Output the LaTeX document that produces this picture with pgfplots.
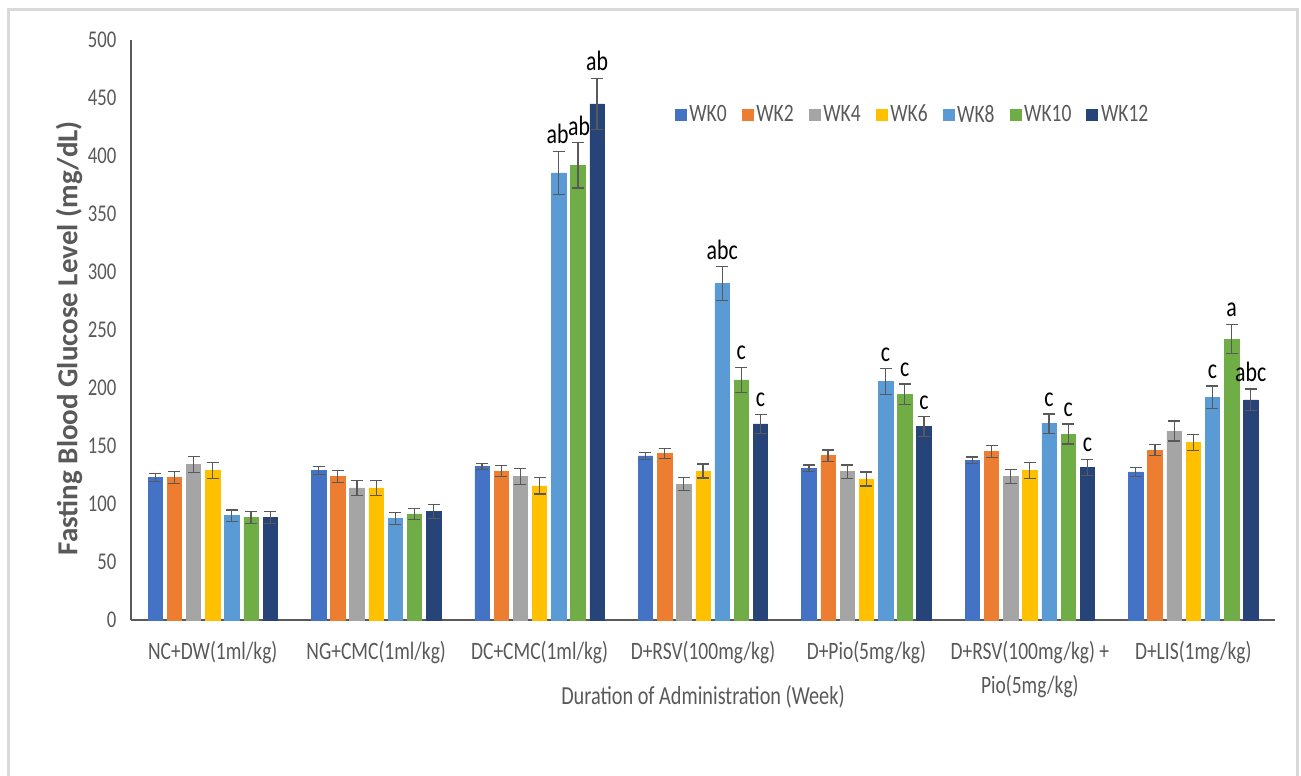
\documentclass[border=0pt]{standalone}
\usepackage{pgfplots}
\pgfplotsset{compat=1.18}
\usepackage{pgfplotstable}
\usepackage{fontspec}
\setmainfont{Carlito}[FakeStretch=0.78]
\newfontfamily\ylabfont{Carlito}

\definecolor{wkA}{HTML}{4472C4}
\definecolor{wkB}{HTML}{ED7D31}
\definecolor{wkC}{HTML}{A5A5A5}
\definecolor{wkD}{HTML}{FFC000}
\definecolor{wkE}{HTML}{5B9BD5}
\definecolor{wkF}{HTML}{70AD47}
\definecolor{wkG}{HTML}{264478}
\definecolor{txt}{HTML}{595959}

% group, mean and error for each week
\pgfplotstableread{
g w0    e0  w2    e2  w4    e4  w6    e6  w8    e8   w10   e10  w12   e12
0 122.7 3.5 122.7 5.0 134.2 7.0 129.0 7.0 89.9  5.0  88.5  5.0  88.5  5.0
1 129.0 3.5 123.8 5.0 113.8 6.5 113.8 6.5 87.6  5.0  91.4  5.0  93.7  6.0
2 132.4 2.5 128.4 4.5 123.5 7.0 115.6 7.0 385.4 18.5 392.0 19.5 444.9 22.0
3 141.4 3.0 143.6 4.5 117.2 5.5 128.4 6.0 290.0 14.5 207.0 11.0 169.1 8.0
4 130.7 3.0 141.6 5.0 127.9 5.7 121.6 6.0 205.7 11.0 194.5 9.0  166.7 8.6
5 137.6 3.0 145.4 5.0 123.8 6.0 129.0 7.0 169.3 8.3  160.3 8.6  131.6 7.0
6 127.6 3.7 146.3 4.8 162.9 8.6 152.9 7.0 191.9 9.8  242.2 12.7 189.7 9.4
}\fbg

\pgfplotsset{
  mybar/.style 2 args={
    bar shift=#2, fill=#1, draw=#1, line width=0.3pt,
    legend image code/.code={\fill[#1] (0pt,-2.75pt) rectangle (5.5pt,2.75pt);},
    error bars/.cd, y dir=both, y explicit,
    error bar style={draw=txt, line width=0.6pt},
    error mark options={draw=txt, line width=0.6pt, mark size=3pt, rotate=90},
  },
}

\begin{document}
\begin{tikzpicture}[x=1pt,y=1pt]
\useasboundingbox (0,0) rectangle (650.5,388);
\draw[color=gray!30, line width=1.5pt] (4,0) -- (4,383) -- (648.5,383) -- (648.5,0);
\begin{axis}[
  at={(65.5pt,78pt)}, anchor=south west,
  scale only axis, width=572pt, height=290pt,
  ybar, bar width=7.2pt,
  xmin=-0.5, xmax=6.5, ymin=0, ymax=500,
  clip=false,
  axis lines=left,
  axis line style={-, draw=txt, line width=0.7pt},
  major tick length=0pt,
  ytick={0,50,...,500},
  xtick={0,1,2,3,4,5,6},
  xticklabels={NC+DW(1ml/kg), NG+CMC(1ml/kg), DC+CMC(1ml/kg), D+RSV(100mg/kg), D+Pio(5mg/kg), {D+RSV(100mg/kg) +\\Pio(5mg/kg)}, D+LIS(1mg/kg)},
  /pgf/number format/assume math mode=true,
  yticklabel style={font=\fontsize{12}{14}\selectfont, text=txt, xshift=-3.8pt},
  xticklabel style={font=\fontsize{12.5}{17}\selectfont, text=txt, align=center, yshift=-7pt},
  xlabel={Duration of Administration (Week)},
  xlabel style={at={(axis description cs:0.5,-0.1328)}, anchor=center, font=\fontsize{13}{15}\selectfont, text=txt},
  ylabel={Fasting Blood Glucose Level (mg/dL)},
  ylabel style={at={(axis description cs:-0.0542,0.486)}, anchor=center, font=\ylabfont\bfseries\fontsize{14.5}{17}\selectfont, text=txt},
  legend columns=7,
  legend style={at={(0.6836,0.8707)}, anchor=center, draw=none, fill=none,
    font=\fontsize{12.5}{14}\selectfont, text=txt,
    nodes={inner sep=1.5pt},
    /tikz/every even column/.append style={column sep=6pt}},
]
\addplot[mybar={wkA}{-28.755pt}] table[x=g, y=w0, y error=e0] {\fbg};
\addplot[mybar={wkB}{-19.17pt}] table[x=g, y=w2, y error=e2] {\fbg};
\addplot[mybar={wkC}{-9.585pt}] table[x=g, y=w4, y error=e4] {\fbg};
\addplot[mybar={wkD}{0pt}] table[x=g, y=w6, y error=e6] {\fbg};
\addplot[mybar={wkE}{9.585pt}] table[x=g, y=w8, y error=e8] {\fbg};
\addplot[mybar={wkF}{19.17pt}] table[x=g, y=w10, y error=e10] {\fbg};
\addplot[mybar={wkG}{28.755pt}] table[x=g, y=w12, y error=e12] {\fbg};
\legend{WK0, WK2, WK4, WK6, WK8, WK10, WK12}
% significance letters, placed above the error bar tops (invisible bars)
\addplot[bar shift=0pt, draw=none, fill=none, forget plot, nodes near coords, point meta=explicit symbolic,
  nodes near coords style={anchor=south, inner sep=3.5pt, font=\fontsize{14}{16}\selectfont, text=black}]
  coordinates {
  (2.1100,403.9) [ab] (2.2420,411.5) [ab] (2.3519,466.9) [ab]
  (3.1173,304.5) [abc] (3.2346,218.0) [c] (3.3519,177.1) [c]
  (4.1173,216.7) [c] (4.2346,203.5) [c] (4.3519,175.3) [c]
  (5.1173,177.6) [c] (5.2346,168.9) [c] (5.3519,138.6) [c]
  (6.1173,201.7) [c] (6.2346,254.9) [a] (6.3519,199.1) [abc]
  };
\end{axis}
\end{tikzpicture}
\end{document}
